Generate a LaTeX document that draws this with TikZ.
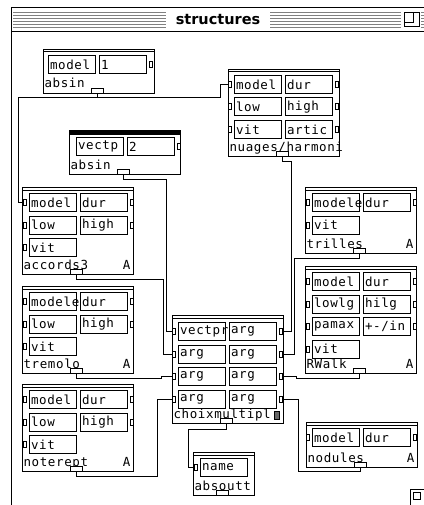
\documentclass[tikz,border=0pt]{standalone}
\usepackage{fontspec}
\setmainfont{DejaVu Sans}
\setmonofont[LetterSpace=5]{DejaVu Sans Mono}
\usepackage{tikz}
\usetikzlibrary{positioning}
\tikzset{every path/.style={line width=1pt}}
\tikzset{
patch/.style={draw, rectangle, anchor=north west, minimum width=111pt, inner sep=0pt},
field/.style={draw, rectangle, text width=44pt, inner xsep=1.5pt, inner ysep=0pt, minimum height=18pt, align=left, font=\ttfamily\fontsize{12.5}{12.5}\selectfont},
pin/.style={draw, fill=white, rectangle, minimum width=3pt, minimum height=6pt, inner sep=0pt},
outlet/.style={draw, fill=white, rectangle, minimum width=12pt, minimum height=5pt, inner sep=0pt, anchor=south},
patchname/.style={anchor=base west, inner sep=0pt, font=\ttfamily\fontsize{12.5}{12.5}\selectfont},
flag/.style={anchor=base east, inner sep=0pt, font=\ttfamily\fontsize{12.5}{12.5}\selectfont}
}

\begin{document}
\begin{tikzpicture}[x=1pt,y=-1pt]
\useasboundingbox (0,0) rectangle (423,505);

\draw (11,506) -- (11,8) -- (424,8);
\draw[line width=1.5pt] (11,7.5) -- (424,7.5);
\draw (11,32) -- (424,32);
\draw[gray, line width=0.7pt] (13,12) -- (166,12) (13,15) -- (166,15) (13,18) -- (166,18) (13,21) -- (166,21) (13,24) -- (166,24) (13,27) -- (166,27);
\draw[gray, line width=0.7pt] (270,12) -- (401,12) (270,15) -- (401,15) (270,18) -- (401,18) (270,21) -- (401,21) (270,24) -- (401,24) (270,27) -- (401,27);
\draw[gray, line width=0.7pt] (421,12) -- (424,12) (421,15) -- (424,15) (421,18) -- (424,18) (421,21) -- (424,21) (421,24) -- (424,24) (421,27) -- (424,27);
\node[font=\bfseries\fontsize{14.5}{14.5}\selectfont] (title) at (218,20) {structures};
\draw (404,13) rectangle (419,27);
\draw (404,13) rectangle (413,23);
\draw (410,489) rectangle (425,507);
\draw (413,492) rectangle (420,499);

\node[patch, minimum height=44pt] (ab) at (43,49) {};
\draw ([yshift=-3pt]ab.north west) -- ([yshift=-3pt]ab.north east);
\node[field, below right=6pt and 5pt of ab.north west] (ab1) {model};
\node[field, right=3pt of ab1] (ab2) {1};
\node[pin, right=2pt of ab2] (ab2o) {};
\node[patchname] (abt) at ([xshift=1pt,yshift=6pt]ab.south west) {absin};
\node[outlet] (abo) at ([xshift=-1.5pt]ab.south) {};

\node[patch, minimum height=44pt] (vp) at (69,130) {};
\fill (vp.north west) rectangle ([yshift=-5pt]vp.north east);
\node[field, below right=7pt and 7pt of vp.north west] (vp1) {vectp};
\node[field, right=3pt of vp1] (vp2) {2};
\node[pin, right=2pt of vp2] (vp2o) {};
\node[patchname] (vpt) at ([xshift=1pt,yshift=6pt]vp.south west) {absin};
\node[outlet] (vpo) at ([xshift=-1.5pt]vp.south) {};

\node[patch, minimum height=87pt] (nu) at (228,69) {};
\draw ([yshift=-3pt]nu.north west) -- ([yshift=-3pt]nu.north east);
\node[field, below right=6pt and 6pt of nu.north west] (nu1) {model};
\node[field, right=3pt of nu1] (nu2) {dur};
\node[field, below=3.5pt of nu1] (nu3) {low};
\node[field, right=3pt of nu3] (nu4) {high};
\node[field, below=3.5pt of nu3] (nu5) {vit};
\node[field, right=3pt of nu5] (nu6) {artic};
\node[pin, left=2pt of nu1] (nu1i) {};
\node[pin, left=2pt of nu3] (nu3i) {};
\node[pin, left=2pt of nu5] (nu5i) {};
\node[pin, right=2pt of nu2] (nu2o) {};
\node[pin, right=2pt of nu4] (nu4o) {};
\node[pin, right=2pt of nu6] (nu6o) {};
\node[patchname] (nut) at ([xshift=1pt,yshift=6pt]nu.south west) {nuages/harmoni};
\node[outlet] (nuo) at ([xshift=-1.5pt]nu.south) {};

\node[patch, minimum height=87pt] (ac) at (22,187) {};
\draw ([yshift=-3pt]ac.north west) -- ([yshift=-3pt]ac.north east);
\node[field, below right=6pt and 7pt of ac.north west] (ac1) {model};
\node[field, right=3pt of ac1] (ac2) {dur};
\node[field, below=3.5pt of ac1] (ac3) {low};
\node[field, right=3pt of ac3] (ac4) {high};
\node[field, below=3.5pt of ac3] (ac5) {vit};
\node[pin, left=2pt of ac1] (ac1i) {};
\node[pin, left=2pt of ac3] (ac3i) {};
\node[pin, left=2pt of ac5] (ac5i) {};
\node[pin, right=2pt of ac2] (ac2o) {};
\node[pin, right=2pt of ac4] (ac4o) {};
\node[patchname] (act) at ([xshift=1pt,yshift=6pt]ac.south west) {accords3};
\node[flag] (acA) at ([xshift=-3pt,yshift=6pt]ac.south east) {A};
\node[outlet] (aco) at ([xshift=-1.5pt]ac.south) {};

\node[patch, minimum height=87pt] (tm) at (22,286) {};
\draw ([yshift=-3pt]tm.north west) -- ([yshift=-3pt]tm.north east);
\node[field, below right=6pt and 7pt of tm.north west] (tm1) {modele};
\node[field, right=3pt of tm1] (tm2) {dur};
\node[field, below=3.5pt of tm1] (tm3) {low};
\node[field, right=3pt of tm3] (tm4) {high};
\node[field, below=3.5pt of tm3] (tm5) {vit};
\node[pin, left=2pt of tm1] (tm1i) {};
\node[pin, left=2pt of tm3] (tm3i) {};
\node[pin, left=2pt of tm5] (tm5i) {};
\node[pin, right=2pt of tm2] (tm2o) {};
\node[pin, right=2pt of tm4] (tm4o) {};
\node[patchname] (tmt) at ([xshift=1pt,yshift=6pt]tm.south west) {tremolo};
\node[flag] (tmA) at ([xshift=-3pt,yshift=6pt]tm.south east) {A};
\node[outlet] (tmo) at ([xshift=-1.5pt]tm.south) {};

\node[patch, minimum height=87pt] (nr) at (22,384) {};
\draw ([yshift=-3pt]nr.north west) -- ([yshift=-3pt]nr.north east);
\node[field, below right=6pt and 7pt of nr.north west] (nr1) {model};
\node[field, right=3pt of nr1] (nr2) {dur};
\node[field, below=3.5pt of nr1] (nr3) {low};
\node[field, right=3pt of nr3] (nr4) {high};
\node[field, below=3.5pt of nr3] (nr5) {vit};
\node[pin, left=2pt of nr1] (nr1i) {};
\node[pin, left=2pt of nr3] (nr3i) {};
\node[pin, left=2pt of nr5] (nr5i) {};
\node[pin, right=2pt of nr2] (nr2o) {};
\node[pin, right=2pt of nr4] (nr4o) {};
\node[patchname] (nrt) at ([xshift=1pt,yshift=6pt]nr.south west) {noterept};
\node[flag] (nrA) at ([xshift=-3pt,yshift=6pt]nr.south east) {A};
\node[outlet] (nro) at ([xshift=-1.5pt]nr.south) {};

\node[patch, minimum height=108pt] (cm) at (172,315) {};
\draw ([yshift=-3pt]cm.north west) -- ([yshift=-3pt]cm.north east);
\node[field, below right=7pt and 6pt of cm.north west] (cm1) {vectpr};
\node[field, right=3pt of cm1] (cm2) {arg};
\node[field, below=3.5pt of cm1] (cm3) {arg};
\node[field, right=3pt of cm3] (cm4) {arg};
\node[field, below=3.5pt of cm3] (cm5) {arg};
\node[field, right=3pt of cm5] (cm6) {arg};
\node[field, below=3.5pt of cm5] (cm7) {arg};
\node[field, right=3pt of cm7] (cm8) {arg};
\node[pin, left=2pt of cm1] (cm1i) {};
\node[pin, left=2pt of cm3] (cm3i) {};
\node[pin, left=2pt of cm5] (cm5i) {};
\node[pin, left=2pt of cm7] (cm7i) {};
\node[pin, right=2pt of cm2] (cm2o) {};
\node[pin, right=2pt of cm4] (cm4o) {};
\node[pin, right=2pt of cm6] (cm6o) {};
\node[pin, right=2pt of cm8] (cm8o) {};
\node[patchname] (cmt) at ([xshift=1pt,yshift=6pt]cm.south west) {choixmultipl};
\node[draw, fill=black!60, minimum width=5pt, minimum height=8pt, inner sep=0pt] (cmE) at ([xshift=-7pt,yshift=9pt]cm.south east) {};
\node[outlet] (cmo) at ([xshift=-1.5pt]cm.south) {};

\node[patch, minimum height=66pt] (tr) at (305,187) {};
\draw ([yshift=-3pt]tr.north west) -- ([yshift=-3pt]tr.north east);
\node[field, below right=6pt and 7pt of tr.north west] (tr1) {modele};
\node[field, right=3pt of tr1] (tr2) {dur};
\node[field, below=3.5pt of tr1] (tr3) {vit};
\node[pin, left=2pt of tr1] (tr1i) {};
\node[pin, left=2pt of tr3] (tr3i) {};
\node[pin, right=2pt of tr2] (tr2o) {};
\node[patchname] (trt) at ([xshift=1pt,yshift=6pt]tr.south west) {trilles};
\node[flag] (trA) at ([xshift=-3pt,yshift=6pt]tr.south east) {A};
\node[outlet] (tro) at ([xshift=-1.5pt]tr.south) {};

\node[patch, minimum height=107pt] (rw) at (305,266) {};
\draw ([yshift=-3pt]rw.north west) -- ([yshift=-3pt]rw.north east);
\node[field, below right=6pt and 7pt of rw.north west] (rw1) {model};
\node[field, right=3pt of rw1] (rw2) {dur};
\node[field, below=3.5pt of rw1] (rw3) {lowlg};
\node[field, right=3pt of rw3] (rw4) {hilg};
\node[field, below=3.5pt of rw3] (rw5) {pamax};
\node[field, right=3pt of rw5] (rw6) {+-/in};
\node[field, below=3.5pt of rw5] (rw7) {vit};
\node[pin, left=2pt of rw1] (rw1i) {};
\node[pin, left=2pt of rw3] (rw3i) {};
\node[pin, left=2pt of rw5] (rw5i) {};
\node[pin, left=2pt of rw7] (rw7i) {};
\node[pin, right=2pt of rw2] (rw2o) {};
\node[pin, right=2pt of rw4] (rw4o) {};
\node[pin, right=2pt of rw6] (rw6o) {};
\node[patchname] (rwt) at ([xshift=1pt,yshift=6pt]rw.south west) {RWalk};
\node[flag] (rwA) at ([xshift=-3pt,yshift=6pt]rw.south east) {A};
\node[outlet] (rwo) at ([xshift=-1.5pt]rw.south) {};

\node[patch, minimum height=45pt] (nd) at (306,422) {};
\draw ([yshift=-3pt]nd.north west) -- ([yshift=-3pt]nd.north east);
\node[field, below right=6pt and 6pt of nd.north west] (nd1) {model};
\node[field, right=3pt of nd1] (nd2) {dur};
\node[pin, left=2pt of nd1] (nd1i) {};
\node[pin, right=2pt of nd2] (nd2o) {};
\node[patchname] (ndt) at ([xshift=1pt,yshift=6pt]nd.south west) {nodules};
\node[flag] (ndA) at ([xshift=-3pt,yshift=6pt]nd.south east) {A};
\node[outlet] (ndo) at ([xshift=-1.5pt]nd.south) {};

\node[patch, minimum width=61pt, minimum height=43pt] (ao) at (193,452) {};
\draw ([yshift=-3pt]ao.north west) -- ([yshift=-3pt]ao.north east);
\node[field, below right=6pt and 7pt of ao.north west] (ao1) {name};
\node[pin, left=2pt of ao1] (ao1i) {};
\node[patchname] (aot) at ([xshift=1pt,yshift=6pt]ao.south west) {absoutt};
\node[outlet] (aoo) at ([xshift=-1.5pt]ao.south) {};

\draw (abo.south) -- ++(0,4) -| ([xshift=-8pt]nu1i.west) -- (nu1i.west);
\draw (abo.south) -- ++(0,4) -| ([xshift=-5pt]ac1i.west) -- (ac1i.west);
\draw (vpo.south) -- ++(0,4) -| ([xshift=-6pt]cm1i.west) -- (cm1i.west);
\draw (aco.south) -- ++(0,4) -| ([xshift=-9pt]cm3i.west) -- (cm3i.west);
\draw (tmo.south) -- ++(0,4) -| ([xshift=-11pt]cm5i.west) -- (cm5i.west);
\draw (nro.south) -- ++(0,4) -| ([xshift=-15pt]cm7i.west) -- (cm7i.west);
\draw (nuo.south) -- ++(0,4) -| ([xshift=8pt]cm2o.east) -- (cm2o.east);
\draw (tro.south) -- ++(0,4) -| ([xshift=11pt]cm4o.east) -- (cm4o.east);
\draw (rwo.south) -- ++(0,4) -| ([xshift=13pt]cm6o.east) -- (cm6o.east);
\draw (ndo.south) -- ++(0,3) -| ([xshift=15pt]cm8o.east) -- (cm8o.east);
\draw (cmo.south) -- ++(0,5) -| ([xshift=-6pt]ao1i.west) -- (ao1i.west);
\end{tikzpicture}
\end{document}
